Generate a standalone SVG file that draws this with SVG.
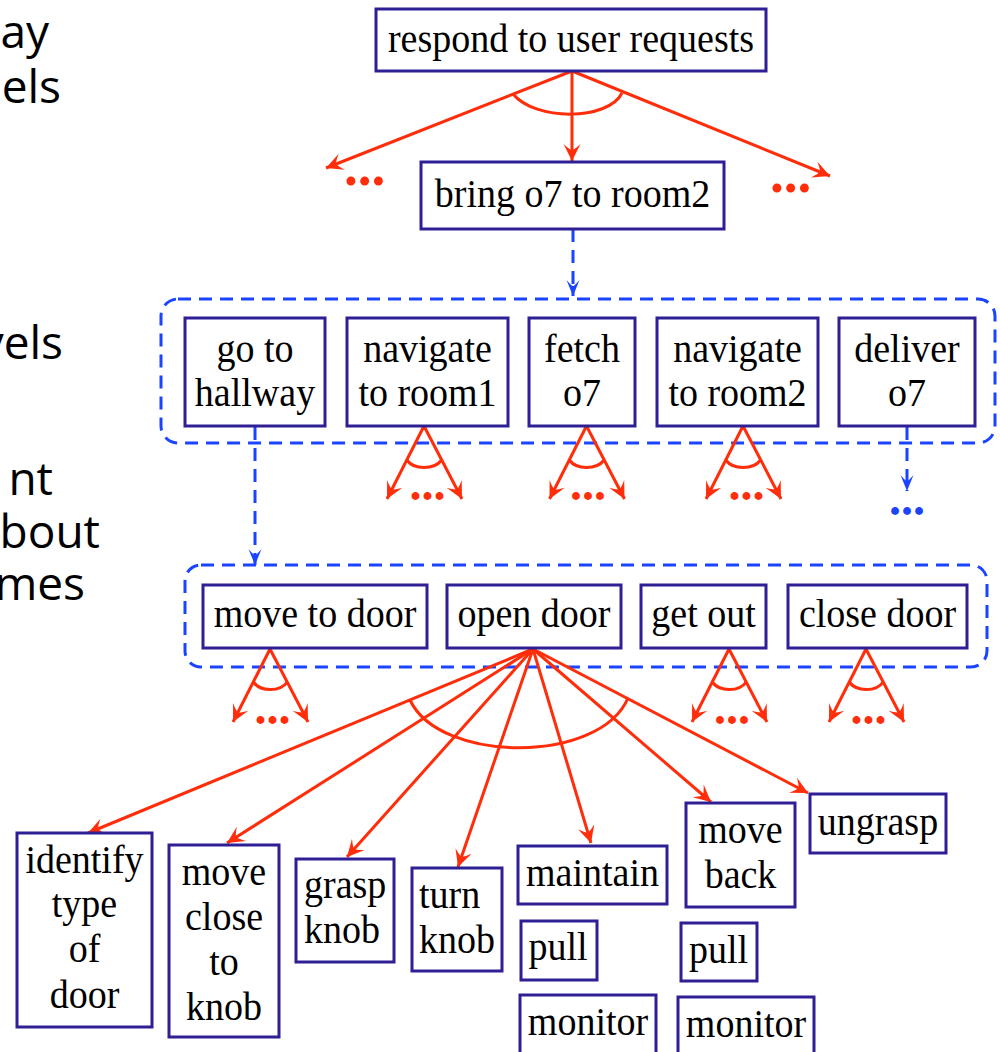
<svg xmlns="http://www.w3.org/2000/svg" width="1000" height="1052" viewBox="0 0 1000 1052">
  <style>
    .box { fill: #ffffff; stroke: #2e1f95; stroke-width: 3; }
    .lbl { font-family: "Liberation Serif", "Times New Roman", serif; font-size: 40px; fill: #000000; text-anchor: middle; }
    .lft { text-anchor: start; }
    .side { font-family: "Open Sans", "Noto Sans", sans-serif; font-size: 46px; fill: #000000; text-anchor: end; }
    .red { fill: none; stroke: #ff2d0a; stroke-width: 3; }
    .blue { fill: none; stroke: #1a44ff; stroke-width: 3; stroke-dasharray: 13 8; }
    .grp { fill: none; stroke: #1a44ff; stroke-width: 3; stroke-dasharray: 13 8; }
    .dots { font-family: "Liberation Serif", "Times New Roman", serif; font-weight: bold; text-anchor: middle; }
    .rdots { fill: #ff2d0a; }
    .bdots { fill: #1a44ff; }
  </style>
  <defs>
    <marker id="ah-red" markerUnits="userSpaceOnUse" viewBox="-19 -10 20 20" markerWidth="20" markerHeight="20" refX="0" refY="0" orient="auto">
      <path d="M0,0 L-17,-8.5 Q-11,-2 -11,0 Q-11,2 -17,8.5 Z" fill="#ff2d0a"/>
    </marker>
    <marker id="ah-blue" markerUnits="userSpaceOnUse" viewBox="-17 -8 18 16" markerWidth="18" markerHeight="16" refX="0" refY="0" orient="auto">
      <path d="M0,0 L-16,-6.5 Q-10,-1.5 -10,0 Q-10,1.5 -16,6.5 Z" fill="#1a44ff"/>
    </marker>
  </defs>

  <!-- clipped side captions -->
  <g id="side-captions">
    <text class="side" x="49" y="48">ay</text>
    <text class="side" x="61" y="103">els</text>
    <text class="side" x="63" y="359">vels</text>
    <text class="side" x="53" y="495">nt</text>
    <text class="side" x="100" y="548">bout</text>
    <text class="side" x="85" y="600">mes</text>
  </g>

  <!-- dashed method groupings -->
  <g id="method-groups">
    <rect id="group-bring" class="grp" x="161" y="299" width="834" height="144" rx="17"/>
    <rect id="group-hallway" class="grp" x="185" y="565" width="802" height="102" rx="16"/>
  </g>

  <!-- connectors -->
  <g id="connectors">
    <!-- top task decomposition -->
    <line class="red" x1="572" y1="71" x2="326" y2="168" marker-end="url(#ah-red)"/>
    <line class="red" x1="572" y1="71" x2="572" y2="161" marker-end="url(#ah-red)"/>
    <line class="red" x1="572" y1="71" x2="830" y2="176" marker-end="url(#ah-red)"/>
    <path class="red" d="M513,94 C535,121 608,121 622,93"/>

    <!-- refinements (blue dashed) -->
    <line class="blue" x1="573" y1="229" x2="573" y2="296" marker-end="url(#ah-blue)"/>
    <line class="blue" x1="255" y1="427" x2="255" y2="565" marker-end="url(#ah-blue)"/>
    <line class="blue" x1="907" y1="427" x2="907" y2="491" marker-end="url(#ah-blue)"/>

    <!-- small fans under second row -->
    <line class="red" x1="424" y1="426" x2="387" y2="499" marker-end="url(#ah-red)"/>
    <line class="red" x1="424" y1="426" x2="462" y2="499" marker-end="url(#ah-red)"/>
    <path class="red" d="M406.8,460 C414,470 434,470 441.7,460"/>

    <line class="red" x1="586.5" y1="426" x2="549.5" y2="499" marker-end="url(#ah-red)"/>
    <line class="red" x1="586.5" y1="426" x2="624.5" y2="499" marker-end="url(#ah-red)"/>
    <path class="red" d="M569.3,460 C576.5,470 596.5,470 604.2,460"/>

    <line class="red" x1="743" y1="426" x2="706" y2="499" marker-end="url(#ah-red)"/>
    <line class="red" x1="743" y1="426" x2="781" y2="499" marker-end="url(#ah-red)"/>
    <path class="red" d="M725.8,460 C733,470 753,470 760.7,460"/>

    <!-- small fans under third row -->
    <line class="red" x1="270" y1="649" x2="233" y2="722" marker-end="url(#ah-red)"/>
    <line class="red" x1="270" y1="649" x2="308" y2="722" marker-end="url(#ah-red)"/>
    <path class="red" d="M253.3,682 C260.5,692 280.5,692 287.2,682"/>

    <line class="red" x1="729" y1="649" x2="692" y2="722" marker-end="url(#ah-red)"/>
    <line class="red" x1="729" y1="649" x2="767" y2="722" marker-end="url(#ah-red)"/>
    <path class="red" d="M712.3,682 C719.5,692 739.5,692 746.2,682"/>

    <line class="red" x1="866" y1="649" x2="829" y2="722" marker-end="url(#ah-red)"/>
    <line class="red" x1="866" y1="649" x2="904" y2="722" marker-end="url(#ah-red)"/>
    <path class="red" d="M849.3,682 C856.5,692 876.5,692 883.2,682"/>

    <!-- open door decomposition -->
    <line class="red" x1="533" y1="649" x2="88" y2="833" marker-end="url(#ah-red)"/>
    <line class="red" x1="533" y1="649" x2="227" y2="843" marker-end="url(#ah-red)"/>
    <line class="red" x1="533" y1="649" x2="347" y2="857" marker-end="url(#ah-red)"/>
    <line class="red" x1="533" y1="649" x2="458" y2="867" marker-end="url(#ah-red)"/>
    <line class="red" x1="533" y1="649" x2="591" y2="843" marker-end="url(#ah-red)"/>
    <line class="red" x1="533" y1="649" x2="711" y2="802" marker-end="url(#ah-red)"/>
    <line class="red" x1="533" y1="649" x2="808" y2="793" marker-end="url(#ah-red)"/>
    <path class="red" d="M410,700 C440,764 600,764 628,698"/>
  </g>

  <!-- continuation marks -->
  <g id="ellipses">
    <text class="dots rdots" x="364.5" y="185" font-size="55">...</text>
    <text class="dots rdots" x="790.5" y="192" font-size="55">...</text>
    <text class="dots rdots" x="427.5" y="500" font-size="48">...</text>
    <text class="dots rdots" x="588" y="500" font-size="48">...</text>
    <text class="dots rdots" x="746.5" y="500" font-size="48">...</text>
    <text class="dots bdots" x="907" y="515" font-size="48">...</text>
    <text class="dots rdots" x="272.5" y="724" font-size="48">...</text>
    <text class="dots rdots" x="732" y="724" font-size="48">...</text>
    <text class="dots rdots" x="868.5" y="724" font-size="48">...</text>
  </g>

  <!-- task nodes (labels slightly condensed) -->
  <g id="respond-to-user-requests">
    <rect class="box" x="376" y="9" width="390" height="62"/>
    <text class="lbl" transform="translate(571 52) scale(0.95 1)">respond to user requests</text>
  </g>
  <g id="bring-o7-to-room2">
    <rect class="box" x="421" y="162" width="303" height="67"/>
    <text class="lbl" transform="translate(572.5 207) scale(0.95 1)">bring o7 to room2</text>
  </g>

  <g id="go-to-hallway">
    <rect class="box" x="185" y="318" width="140" height="108"/>
    <text class="lbl" transform="translate(255 362) scale(0.95 1)">go to</text>
    <text class="lbl" transform="translate(255 406) scale(0.95 1)">hallway</text>
  </g>
  <g id="navigate-to-room1">
    <rect class="box" x="347" y="318" width="161" height="108"/>
    <text class="lbl" transform="translate(427.5 362) scale(0.95 1)">navigate</text>
    <text class="lbl" transform="translate(427.5 406) scale(0.95 1)">to room1</text>
  </g>
  <g id="fetch-o7">
    <rect class="box" x="529" y="318" width="106" height="108"/>
    <text class="lbl" transform="translate(582 362) scale(0.95 1)">fetch</text>
    <text class="lbl" transform="translate(582 406) scale(0.95 1)">o7</text>
  </g>
  <g id="navigate-to-room2">
    <rect class="box" x="657" y="318" width="161" height="108"/>
    <text class="lbl" transform="translate(737.5 362) scale(0.95 1)">navigate</text>
    <text class="lbl" transform="translate(737.5 406) scale(0.95 1)">to room2</text>
  </g>
  <g id="deliver-o7">
    <rect class="box" x="839" y="318" width="136" height="108"/>
    <text class="lbl" transform="translate(907 362) scale(0.95 1)">deliver</text>
    <text class="lbl" transform="translate(907 406) scale(0.95 1)">o7</text>
  </g>

  <g id="move-to-door">
    <rect class="box" x="203" y="585" width="224" height="63"/>
    <text class="lbl" transform="translate(315 627) scale(0.95 1)">move to door</text>
  </g>
  <g id="open-door">
    <rect class="box" x="447" y="585" width="174" height="63"/>
    <text class="lbl" transform="translate(534 627) scale(0.95 1)">open door</text>
  </g>
  <g id="get-out">
    <rect class="box" x="641" y="585" width="125" height="63"/>
    <text class="lbl" transform="translate(703.5 627) scale(0.95 1)">get out</text>
  </g>
  <g id="close-door">
    <rect class="box" x="788" y="585" width="179" height="63"/>
    <text class="lbl" transform="translate(877.5 627) scale(0.95 1)">close door</text>
  </g>

  <g id="identify-type-of-door">
    <rect class="box" x="17" y="833" width="135" height="194"/>
    <text class="lbl" transform="translate(84.5 873) scale(0.95 1)">identify</text>
    <text class="lbl" transform="translate(84.5 917) scale(0.95 1)">type</text>
    <text class="lbl" transform="translate(84.5 962) scale(0.95 1)">of</text>
    <text class="lbl" transform="translate(84.5 1008) scale(0.95 1)">door</text>
  </g>
  <g id="move-close-to-knob">
    <rect class="box" x="169" y="845" width="110" height="192"/>
    <text class="lbl" transform="translate(224 885) scale(0.95 1)">move</text>
    <text class="lbl" transform="translate(224 930) scale(0.95 1)">close</text>
    <text class="lbl" transform="translate(224 975) scale(0.95 1)">to</text>
    <text class="lbl" transform="translate(224 1020) scale(0.95 1)">knob</text>
  </g>
  <g id="grasp-knob">
    <rect class="box" x="296" y="859" width="98" height="103"/>
    <text class="lbl lft" transform="translate(304 898) scale(0.95 1)">grasp</text>
    <text class="lbl lft" transform="translate(304 943) scale(0.95 1)">knob</text>
  </g>
  <g id="turn-knob">
    <rect class="box" x="412" y="868" width="90" height="103"/>
    <text class="lbl lft" transform="translate(419 908) scale(0.95 1)">turn</text>
    <text class="lbl lft" transform="translate(419 953) scale(0.95 1)">knob</text>
  </g>
  <g id="maintain">
    <rect class="box" x="518" y="846" width="149" height="58"/>
    <text class="lbl" transform="translate(592.5 886) scale(0.95 1)">maintain</text>
  </g>
  <g id="pull-1">
    <rect class="box" x="521" y="921" width="76" height="59"/>
    <text class="lbl" transform="translate(558 960) scale(0.95 1)">pull</text>
  </g>
  <g id="monitor-1">
    <rect class="box" x="520" y="995" width="136" height="70"/>
    <text class="lbl" transform="translate(588 1035) scale(0.95 1)">monitor</text>
  </g>
  <g id="move-back">
    <rect class="box" x="686" y="803" width="109" height="104"/>
    <text class="lbl" transform="translate(740.5 843) scale(0.95 1)">move</text>
    <text class="lbl" transform="translate(740.5 888) scale(0.95 1)">back</text>
  </g>
  <g id="pull-2">
    <rect class="box" x="681" y="923" width="76" height="58"/>
    <text class="lbl" transform="translate(718.5 963) scale(0.95 1)">pull</text>
  </g>
  <g id="monitor-2">
    <rect class="box" x="678" y="997" width="136" height="70"/>
    <text class="lbl" transform="translate(746 1037) scale(0.95 1)">monitor</text>
  </g>
  <g id="ungrasp">
    <rect class="box" x="810" y="794" width="136" height="59"/>
    <text class="lbl" transform="translate(878 835) scale(0.95 1)">ungrasp</text>
  </g>
</svg>
